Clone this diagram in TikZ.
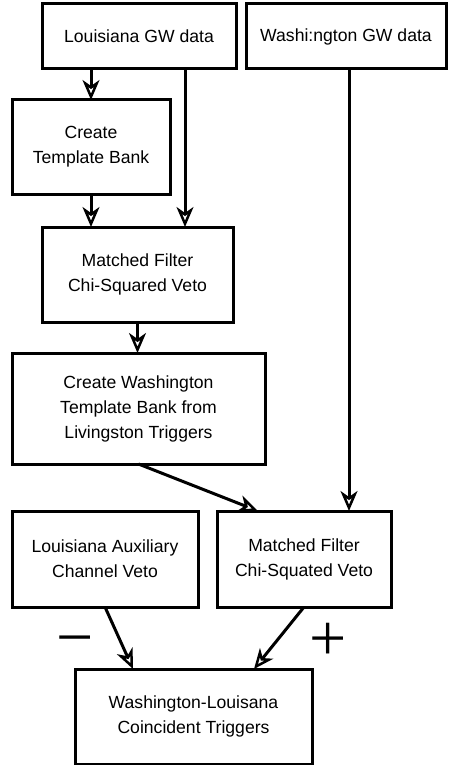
\documentclass[tikz,border=0pt]{standalone}
\usepackage{fontspec}
\setmainfont{Liberation Sans}
\newfontfamily\signfont{Liberation Serif}
\usetikzlibrary{arrows.meta}
\tikzset{box/.style = {draw, line width = 3pt, inner sep = 0pt, outer sep = 0pt, align = center, font = \fontsize{17.6}{25}\selectfont},
	flow/.style = {line width = 3pt, -{Stealth[open, length = 20pt, width = 17pt, inset = 6pt, line width = 2.5pt]}},
	sign/.style = {font = \signfont\fontsize{66}{66}\selectfont, inner sep = 0pt, anchor = base}}

\begin{document}
\begin{tikzpicture}[x = 1pt, y = -1pt]
			\useasboundingbox (0,0) rectangle (448,765);
			\node (lgw) at (139,36.5) [box, minimum width = 194pt, minimum height = 65pt] {Louisiana GW data};
			\node (wgw) at (346,36.5) [box, minimum width = 200pt, minimum height = 65pt] {Washi:ngton GW data};
			\node (tbank) at (91,147) [box, minimum width = 158pt, minimum height = 94pt] {Create\\Template Bank};
			\node (lmf) at (137.5,274.5) [box, minimum width = 191pt, minimum height = 95pt] {Matched Filter\\Chi-Squared Veto};
			\node (wbank) at (138.5,408.5) [box, minimum width = 253pt, minimum height = 111pt] {Create Washington\\Template Bank from\\Livingston Triggers};
			\node (aux) at (105,559) [box, minimum width = 186pt, minimum height = 96pt] {Louisiana Auxiliary\\Channel Veto};
			\node (wmf) at (304,559) [box, minimum width = 174pt, minimum height = 96pt] {Matched Filter\\Chi-Squated Veto};
			\node (coinc) at (193.5,716.5) [box, minimum width = 237pt, minimum height = 95pt] {Washington-Louisana\\Coincident Triggers};
			\node (minus) at (75,659) [sign] {−};
			\node (plus) at (328,660) [sign] {+};
			\draw[flow] (lgw.south -| tbank.north) -- (tbank.north);
			\draw[flow] ([xshift = -51pt]lgw.south east) -- ([xshift = -48pt]lmf.north east);
			\draw[flow] (tbank.south) -- (tbank.south |- lmf.north);
			\draw[flow] (lmf.south) -- (lmf.south |- wbank.north);
			\draw[flow] ([xshift = 3pt]wgw.south) -- ([xshift = 3pt]wgw.south |- wmf.north);
			\draw[flow] (wbank.south) -- ([xshift = 41pt]wmf.north west);
			\draw[flow] (aux.south) -- ([xshift = 58pt]coinc.north west);
			\draw[flow] (wmf.south) -- ([xshift = -58pt]coinc.north east);
			\end{tikzpicture}
\end{document}
